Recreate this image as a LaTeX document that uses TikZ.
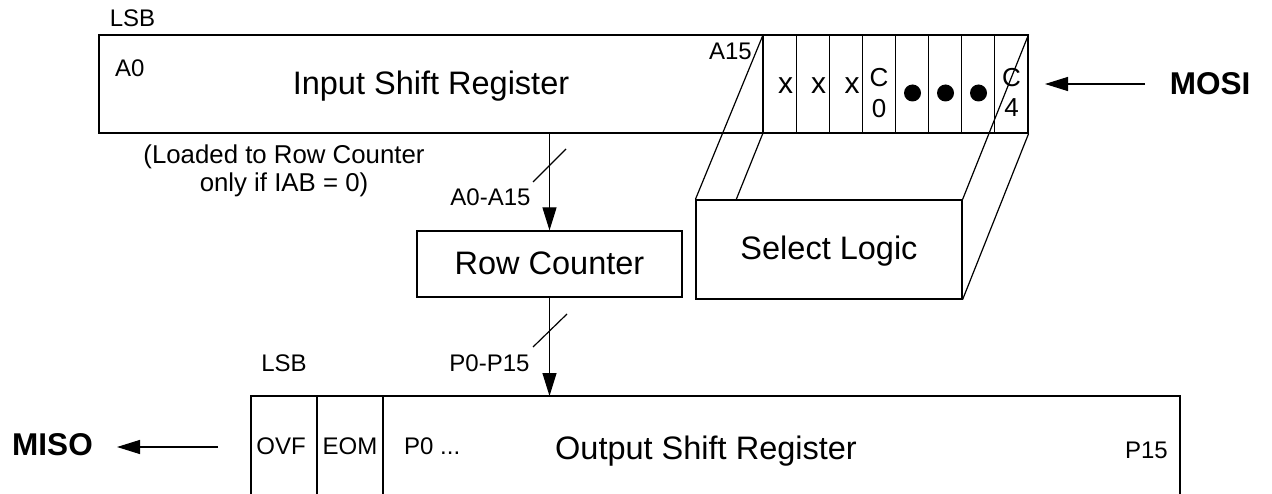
\documentclass[tikz,border=0pt]{standalone}
\usepackage{fontspec}
\setmainfont{Liberation Sans}
\usetikzlibrary{arrows.meta}
\begin{document}
\begin{tikzpicture}[x=1pt,y=-1pt,
  ln/.style={line width=1.2pt,black},
  box/.style={ln,draw,rectangle,inner sep=0pt},
  arr/.style={ln,-{Triangle[length=23pt,width=14pt]}},
  big/.style={inner sep=0pt,anchor=base,font=\fontsize{32.5}{39}\selectfont},
  small/.style={inner sep=0pt,anchor=base,font=\fontsize{24}{28}\selectfont},
  cell/.style={inner sep=0pt,anchor=base,font=\fontsize{26}{30}\selectfont},
  xcell/.style={inner sep=0pt,anchor=base,font=\fontsize{30}{34}\selectfont},
  bold/.style={inner sep=0pt,anchor=base,font=\fontsize{31.5}{36}\selectfont\bfseries},
  dot/.style={circle,fill=black,inner sep=0pt,minimum size=17pt}]
\useasboundingbox (0,0) rectangle (1272,494);

% Input shift register
\node[box,minimum width=929pt,minimum height=98pt] (isr) at (563.5,84) {};
\node[big] (isrt) at (431,95) {Input Shift Register};
\node[small] (lsbtop) at (132.5,27) {LSB};
\node[small,anchor=base west] (a0) at (115,77) {A0};
\node[small,anchor=base east] (a15) at (752,60) {A15};

% cells
\foreach \k in {0,...,7} {
  \coordinate (ct\k) at (763+33.125*\k,35);
  \coordinate (cb\k) at (763+33.125*\k,133);
  \draw[ln] (ct\k) -- (cb\k);
}
\node[xcell] (x1) at (785.5,94) {x};
\node[xcell] (x2) at (818.5,94) {x};
\node[xcell] (x3) at (852,94) {x};
\node[cell] (c0a) at (879,87) {C};
\node[cell] (c0b) at (879,118) {0};
\node[dot] (d1) at (912.5,93) {};
\node[dot] (d2) at (945.5,93) {};
\node[dot] (d3) at (978.5,93) {};
\node[cell] (c4a) at (1011.5,87) {C};
\node[cell] (c4b) at (1011.5,117) {4};

% Select logic (3D box)
\node[box,minimum width=266pt,minimum height=99pt] (sl) at (829,249.5) {};
\node[big] (slt) at (829,260) {Select Logic};
\coordinate (hid) at (736,200);
\draw[ln] (sl.north west) -- (ct0);
\draw[ln] (sl.north east) -- (isr.north east);
\draw[ln] (sl.south east) -- (isr.south east);
\draw[ln] (cb0) -- (hid);

% MOSI
\node[bold] (mosi) at (1210,95) {MOSI};
\coordinate (mosis) at (1145,84);
\coordinate (mositip) at (1045,84);
\draw[arr] (mosis) -- (mositip);

% Row counter
\node[box,minimum width=265pt,minimum height=66pt] (rc) at (549.5,264) {};
\node[big] (rct) at (549.5,275) {Row Counter};
\draw[arr] (isr.south -| rc.north) -- (rc.north);
\coordinate (s1a) at (533,182);
\coordinate (s1b) at (566,149);
\draw[ln] (s1a) -- (s1b);
\node[small] (a0a15) at (490.5,206) {A0-A15};
\node[small,align=center,font=\fontsize{25.8}{28}\selectfont] (load) at (284,192) {(Loaded to Row Counter\\only if IAB = 0)};

% Output shift register
\coordinate (obl) at (251,494);
\coordinate (otl) at (251,396);
\coordinate (otr) at (1180,396);
\coordinate (obr) at (1180,494);
\draw[ln] (obl) -- (otl) -- (otr) -- (obr);
\coordinate (o1t) at (317,396);
\coordinate (o1b) at (317,494);
\coordinate (o2t) at (383,396);
\coordinate (o2b) at (383,494);
\draw[ln] (o1t) -- (o1b);
\draw[ln] (o2t) -- (o2b);
\coordinate (otop) at (549.5,396);
\draw[arr] (rc.south) -- (otop);
\coordinate (s2a) at (533,347);
\coordinate (s2b) at (567,314);
\draw[ln] (s2a) -- (s2b);
\node[small] (p0p15) at (489.5,371) {P0-P15};
\node[small] (lsbbot) at (284,371) {LSB};
\node[small] (ovf) at (281,454) {OVF};
\node[small] (eom) at (350,454) {EOM};
\node[small,anchor=base west] (p0) at (404,454) {P0 ...};
\node[big] (osrt) at (706,459) {Output Shift Register};
\node[small,anchor=base east] (p15) at (1168,458) {P15};

% MISO
\node[bold] (miso) at (52.5,455) {MISO};
\coordinate (misos) at (218,447);
\coordinate (misotip) at (117,447);
\draw[arr] (misos) -- (misotip);
\end{tikzpicture}
\end{document}
